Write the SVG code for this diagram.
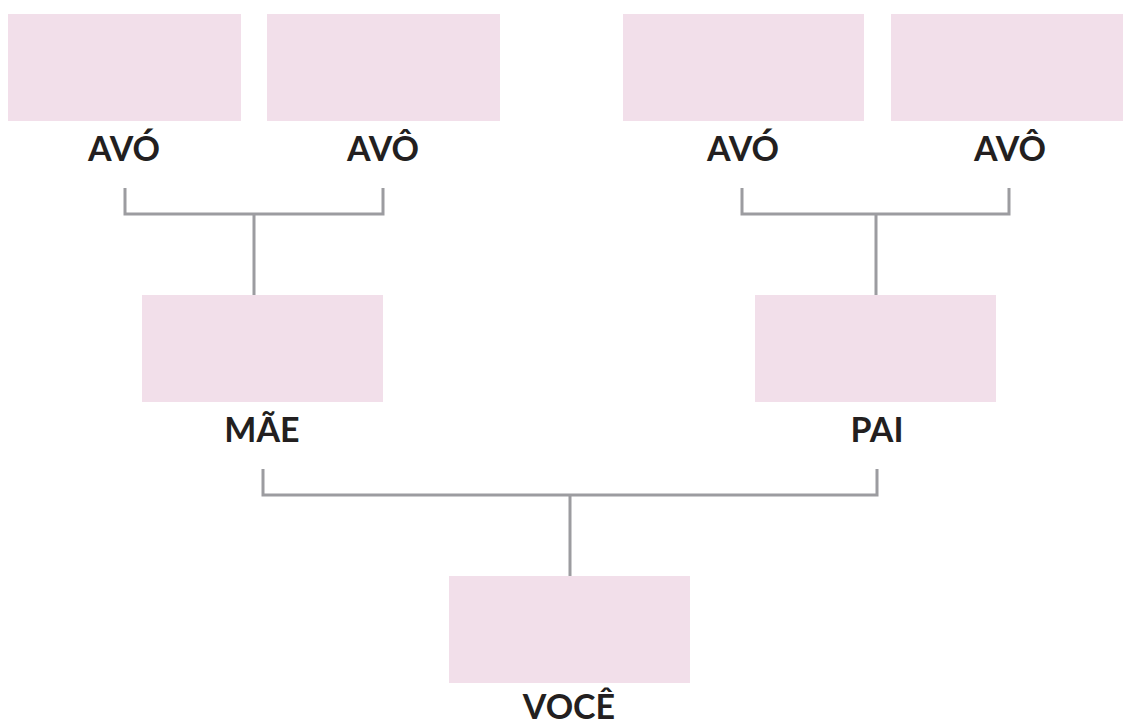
<svg xmlns="http://www.w3.org/2000/svg" width="1123" height="726" viewBox="0 0 1123 726">
<style>
.box{fill:#f2dfea}
.lbl{font-family:Lato,"Liberation Sans",sans-serif;font-weight:700;font-size:34px;fill:#231f20;text-anchor:middle}
.ln{fill:none;stroke:#9c9ca0;stroke-width:3}
</style>
<rect width="1123" height="726" fill="#ffffff"/>
<g id="connectors">
<path class="ln" d="M125 188 V214 H383 V188 M254 214 V295"/>
<path class="ln" d="M742 188 V214 H1009 V188 M876 214 V295"/>
<path class="ln" d="M263 469 V495 H877 V469 M570 495 V576"/>
</g>
<g id="avo1"><rect class="box" x="8" y="14" width="233" height="107"/><text class="lbl" x="124" y="161">AVÓ</text></g>
<g id="avo2"><rect class="box" x="267" y="14" width="233" height="107"/><text class="lbl" x="383" y="161">AVÔ</text></g>
<g id="avo3"><rect class="box" x="623" y="14" width="241" height="107"/><text class="lbl" x="743" y="161">AVÓ</text></g>
<g id="avo4"><rect class="box" x="891" y="14" width="232" height="107"/><text class="lbl" x="1010" y="161">AVÔ</text></g>
<g id="mae"><rect class="box" x="142" y="295" width="241" height="107"/><text class="lbl" x="262" y="442">MÃE</text></g>
<g id="pai"><rect class="box" x="755" y="295" width="241" height="107"/><text class="lbl" x="877" y="442">PAI</text></g>
<g id="voce"><rect class="box" x="449" y="576" width="241" height="107"/><text class="lbl" x="569" y="719">VOCÊ</text></g>
</svg>
